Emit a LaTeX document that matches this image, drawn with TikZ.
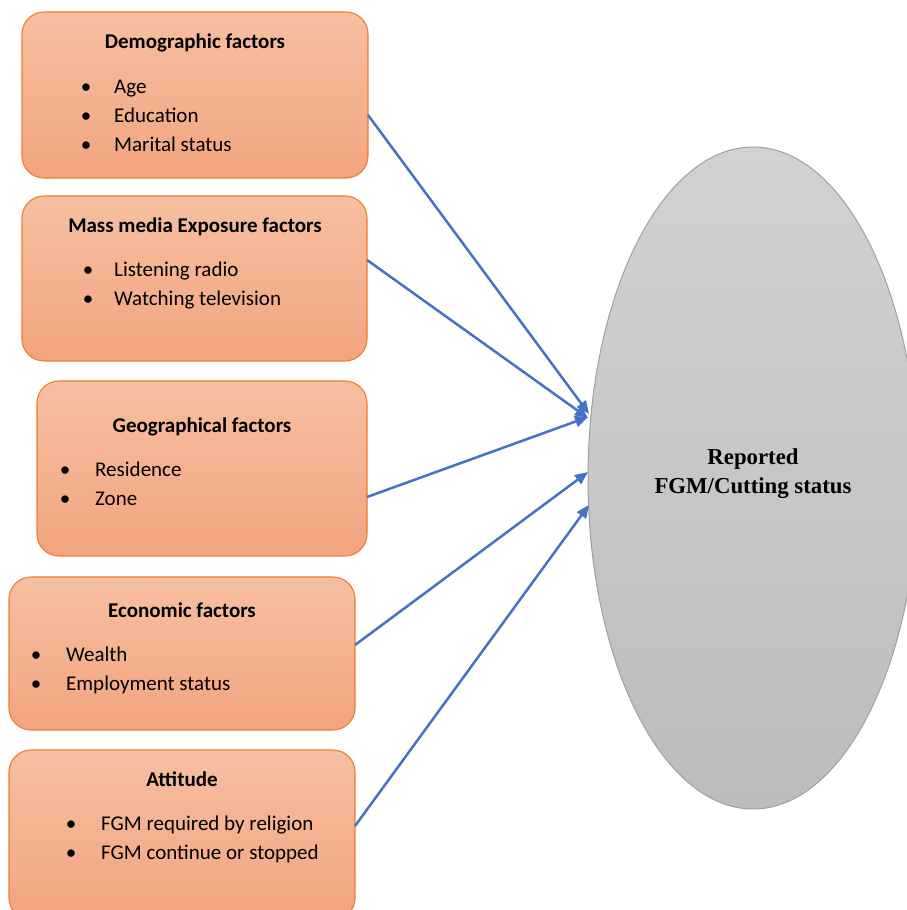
\documentclass[tikz,border=0pt]{standalone}
\usepackage{fontspec}
\setmainfont{Carlito}
\newfontfamily\serifbold{Liberation Serif}
\usetikzlibrary{arrows.meta,shapes.geometric}
\definecolor{boxtop}{HTML}{F6BFA1}
\definecolor{boxbot}{HTML}{F3A47F}
\definecolor{boxline}{HTML}{ED7D31}
\definecolor{elltop}{HTML}{D2D2D2}
\definecolor{ellbot}{HTML}{BCBCBC}
\definecolor{ellline}{HTML}{A0A0A0}
\definecolor{arrowblue}{HTML}{4472C4}
\tikzset{
  factorbox/.style={draw=boxline, line width=1.1pt, top color=boxtop, bottom color=boxbot,
    rounded corners=22pt, inner sep=0pt},
  titletext/.style={anchor=base, inner sep=0pt, font=\fontsize{21}{24}\selectfont\bfseries},
  bullettext/.style={anchor=base, inner sep=0pt, font=\fontsize{21}{24}\selectfont},
  itemtext/.style={anchor=base west, inner sep=0pt, font=\fontsize{21}{24}\selectfont},
  link/.style={draw=arrowblue, line width=2.5pt, -{Triangle[length=13pt,width=11pt]}},
}
\begin{document}
\begin{tikzpicture}[x=1pt,y=-1pt]
\useasboundingbox (0,0) rectangle (907,910);
\clip (0,0) rectangle (907,910);

% ellipse
\node[ellipse, draw=ellline, line width=1pt, top color=elltop, bottom color=ellbot,
  minimum width=330pt, minimum height=662pt, inner sep=0pt] (out) at (753,478) {};
\node[align=center, inner sep=0pt, font=\serifbold\fontsize{22.8}{29}\selectfont\bfseries] (outtext) at (753,474) {Reported\\FGM/Cutting status};

% boxes
\node[factorbox, minimum width=346pt, minimum height=166pt] (b1) at (195,95) {};
\node[factorbox, minimum width=345pt, minimum height=165pt] (b2) at (194.5,278.5) {};
\node[factorbox, minimum width=330pt, minimum height=175pt] (b3) at (202,468.5) {};
\node[factorbox, minimum width=346pt, minimum height=153pt] (b4) at (182,653.5) {};
\node[factorbox, minimum width=346pt, minimum height=170pt] (b5) at (182,835) {};

% box 1
\node[titletext] (t1) at (195,48.5) {Demographic factors};
\node[bullettext] (p11) at (86,93.7) {•};
\node[itemtext] (i11) at (114,93.7) {Age};
\node[bullettext] (p12) at (86,122.4) {•};
\node[itemtext] (i12) at (114,122.4) {Education};
\node[bullettext] (p13) at (86,151) {•};
\node[itemtext] (i13) at (114,151) {Marital status};

% box 2
\node[titletext] (t2) at (195,232.5) {Mass media Exposure factors};
\node[bullettext] (p21) at (88,276.5) {•};
\node[itemtext] (i21) at (114,276.5) {Listening radio};
\node[bullettext] (p22) at (88,305.2) {•};
\node[itemtext] (i22) at (114,305.2) {Watching television};

% box 3
\node[titletext] (t3) at (202,432) {Geographical factors};
\node[bullettext] (p31) at (65,476.5) {•};
\node[itemtext] (i31) at (95,476.5) {Residence};
\node[bullettext] (p32) at (65,505.2) {•};
\node[itemtext] (i32) at (95,505.2) {Zone};

% box 4
\node[titletext] (t4) at (182,617.5) {Economic factors};
\node[bullettext] (p41) at (36,661.5) {•};
\node[itemtext] (i41) at (66,661.5) {Wealth};
\node[bullettext] (p42) at (36,690.3) {•};
\node[itemtext] (i42) at (66,690.3) {Employment status};

% box 5
\node[titletext] (t5) at (182,786.5) {Attitude};
\node[bullettext] (p51) at (71,830.3) {•};
\node[itemtext] (i51) at (101,830.3) {FGM required by religion};
\node[bullettext] (p52) at (71,859.3) {•};
\node[itemtext] (i52) at (101,859.3) {FGM continue or stopped};

% connector ends
\coordinate (s1) at (368,115);
\coordinate (s2) at (367,260);
\coordinate (s3) at (367,497);
\coordinate (s4) at (355,645);
\coordinate (s5) at (355,826);
\coordinate (e1) at (589,414);
\coordinate (e2) at (588,418);
\coordinate (e3) at (588,417);
\coordinate (e4) at (588,472);
\coordinate (e5) at (589,505);

\draw[link] (s1) -- (e1);
\draw[link] (s2) -- (e2);
\draw[link] (s3) -- (e3);
\draw[link] (s4) -- (e4);
\draw[link] (s5) -- (e5);
\end{tikzpicture}
\end{document}
